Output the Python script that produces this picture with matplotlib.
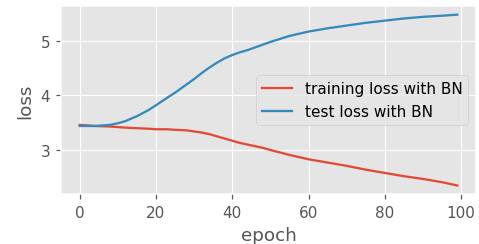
import matplotlib
matplotlib.use('Agg')
import matplotlib.pyplot as plt

plt.style.use('ggplot')

epochs = [0, 4, 8, 10, 12, 15, 18, 20, 23, 25, 28, 30, 32, 34, 36, 38, 40, 42, 44, 46,
          48, 50, 55, 60, 65, 70, 75, 80, 85, 90, 95, 99]
train_loss = [3.46, 3.44, 3.43, 3.42, 3.41, 3.40, 3.39, 3.38, 3.38, 3.37, 3.36, 3.34,
              3.32, 3.29, 3.25, 3.21, 3.17, 3.13, 3.10, 3.07, 3.04, 3.00, 2.91, 2.83,
              2.77, 2.71, 2.64, 2.58, 2.52, 2.47, 2.41, 2.35]
test_loss = [3.44, 3.44, 3.46, 3.49, 3.53, 3.62, 3.73, 3.82, 3.96, 4.05, 4.20, 4.30,
             4.41, 4.51, 4.60, 4.68, 4.74, 4.79, 4.83, 4.88, 4.93, 4.98, 5.09, 5.17,
             5.23, 5.28, 5.33, 5.37, 5.41, 5.44, 5.46, 5.48]

dpi = 110
fig, ax = plt.subplots(figsize=(479 / dpi, 245 / dpi), dpi=dpi)
ax.plot(epochs, train_loss, label='training loss with BN')
ax.plot(epochs, test_loss, label='test loss with BN')
ax.set_xlabel('epoch')
ax.set_ylabel('loss')
ax.set_xticks([0, 20, 40, 60, 80, 100])
ax.set_yticks([3, 4, 5])
ax.legend(loc='center right')
fig.subplots_adjust(left=0.127, right=0.994, top=0.971, bottom=0.204)
fig.savefig('out.png', dpi=dpi)
